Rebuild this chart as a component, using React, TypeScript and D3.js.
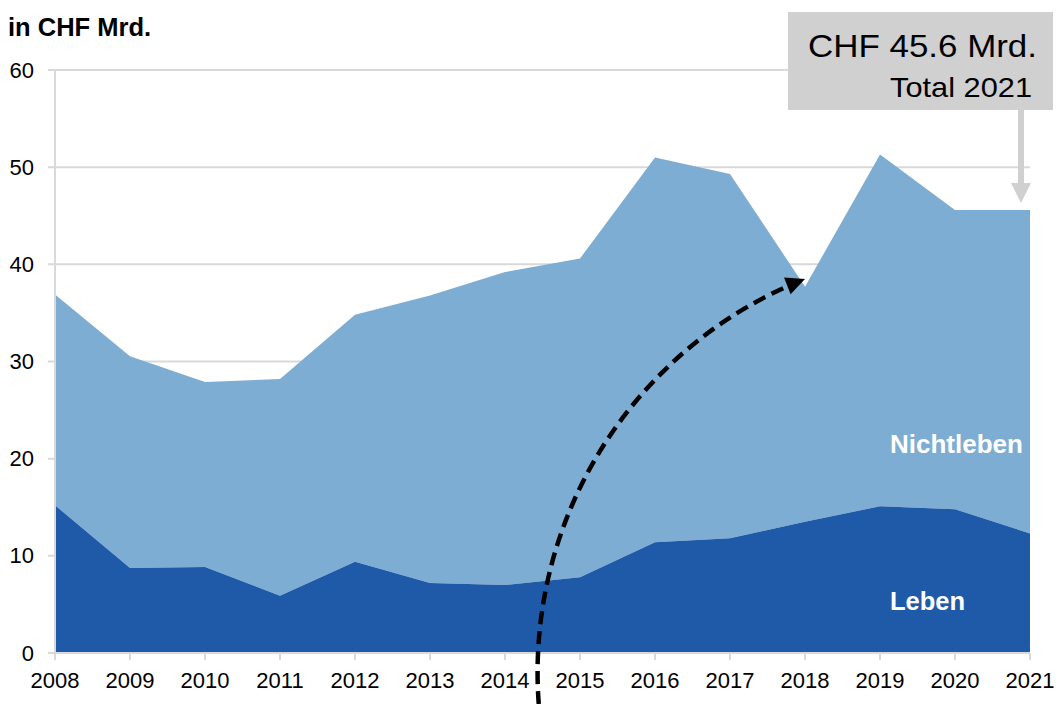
import React from "react";
import * as d3 from "d3";

const years = [2008, 2009, 2010, 2011, 2012, 2013, 2014, 2015, 2016, 2017, 2018, 2019, 2020, 2021];
const leben = [15.2, 8.75, 8.85, 5.9, 9.4, 7.2, 7.0, 7.8, 11.4, 11.8, 13.5, 15.1, 14.8, 12.3];
const nichtleben = [21.7, 21.8, 19.05, 22.3, 25.4, 29.6, 32.2, 32.8, 39.6, 37.5, 24.2, 36.2, 30.8, 33.3];
const yTicks = [0, 10, 20, 30, 40, 50, 60];
const seriesNames = ["Leben", "Nichtleben"];
const unitLabel = "in CHF Mrd.";
const calloutMain = "CHF 45.6 Mrd.";
const calloutSub = "Total 2021";

const W = 1057;
const H = 704;
const LIGHT = "#7eadd3";
const DARK = "#1f5aa8";
const GRID = "#d9d9d9";
const BOX = "#d0d0d0";
const TICKFONT = "'Liberation Sans', Arial, sans-serif";

export default function App() {
  const x = d3.scaleLinear().domain([2008, 2021]).range([55, 1030]);
  const y = d3.scaleLinear().domain([0, 60]).range([653, 70]);

  const rows = years.map((yr, i) => ({ year: yr, Leben: leben[i], Nichtleben: nichtleben[i] }));
  const stack = d3.stack<any>().keys(seriesNames)(rows);
  const area = d3
    .area<any>()
    .x((d: any) => x(d.data.year))
    .y0((d: any) => y(d[0]))
    .y1((d: any) => y(d[1]));

  // dashed curved arrow (circular arc)
  const sx = x(2014.45), sy = H;
  const ex = x(2018), ey = y(38.5);
  const cx = 960, cy = 674;
  const r = Math.hypot(ex - cx, ey - cy);
  const th = Math.atan2(ey - cy, ex - cx);
  const tx = -Math.sin(th), ty = Math.cos(th);
  const headL = 19, headW = 9;
  const bx = ex - tx * headL, by = ey - ty * headL;
  const thB = Math.atan2(by - cy, bx - cx);
  const abx = cx + r * Math.cos(thB), aby = cy + r * Math.sin(thB);
  const r0 = Math.hypot(sx - cx, sy - cy);
  const arcPath = `M${sx},${sy} A${(r + r0) / 2},${(r + r0) / 2} 0 0,1 ${abx},${aby}`;
  const head = [
    [ex, ey],
    [bx + ty * headW, by - tx * headW],
    [bx - ty * headW, by + tx * headW],
  ]
    .map((p) => p.join(","))
    .join(" ");

  const total2021 = leben[13] + nichtleben[13];
  const arrowX = 1021;

  return (
    <svg
      width={W}
      height={H}
      style={{ position: "absolute", left: 0, top: 0, display: "block", background: "#fff" }}
    >
      {/* gridlines */}
      {yTicks.map((t) => (
        <g key={t}>
          <line x1={48} x2={1030} y1={y(t)} y2={y(t)} stroke={GRID} strokeWidth={2} />
          <text
            x={34}
            y={y(t)}
            textAnchor="end"
            dominantBaseline="central"
            fontFamily={TICKFONT}
            fontSize={22}
            fill="#000"
          >
            {t}
          </text>
        </g>
      ))}
      {/* areas */}
      <path d={area(stack[1] as any) || ""} fill={LIGHT} />
      <path d={area(stack[0] as any) || ""} fill={DARK} />
      {/* axes */}
      <line x1={55} x2={55} y1={y(60)} y2={y(0) + 7} stroke={GRID} strokeWidth={2} />
      <line x1={55} x2={1030} y1={y(0)} y2={y(0)} stroke={GRID} strokeWidth={2} />
      {years.map((yr) => (
        <g key={yr}>
          <line x1={x(yr)} x2={x(yr)} y1={y(0)} y2={y(0) + 7} stroke={GRID} strokeWidth={2} />
          <text
            x={x(yr)}
            y={688}
            textAnchor="middle"
            fontFamily={TICKFONT}
            fontSize={22}
            fill="#000"
          >
            {yr}
          </text>
        </g>
      ))}
      {/* unit label */}
      <text x={8} y={36} fontFamily={TICKFONT} fontWeight="bold" fontSize={25.5} fill="#000">
        {unitLabel}
      </text>
      {/* series labels */}
      <text x={890} y={453} fontFamily={TICKFONT} fontWeight="bold" fontSize={26} fill="#fff">
        {seriesNames[1]}
      </text>
      <text x={890} y={610} fontFamily={TICKFONT} fontWeight="bold" fontSize={25.5} fill="#fff">
        {seriesNames[0]}
      </text>
      {/* callout */}
      <rect x={788} y={12} width={265} height={98} fill={BOX} />
      <text
        x={808}
        y={57}
        fontFamily={TICKFONT}
        fontSize={31}
        textLength={229}
        lengthAdjust="spacingAndGlyphs"
        fill="#000"
      >
        {calloutMain}
      </text>
      <text
        x={890}
        y={97}
        fontFamily={TICKFONT}
        fontSize={28}
        textLength={142}
        lengthAdjust="spacingAndGlyphs"
        fill="#000"
      >
        {calloutSub}
      </text>
      <line x1={arrowX} x2={arrowX} y1={110} y2={y(total2021) - 26} stroke={BOX} strokeWidth={6} />
      <polygon
        points={`${arrowX - 10},${y(total2021) - 27} ${arrowX + 10},${y(total2021) - 27} ${arrowX},${y(total2021) - 7}`}
        fill={BOX}
      />
      {/* dashed arrow */}
      <path d={arcPath} fill="none" stroke="#000" strokeWidth={4.5} strokeDasharray="13,7" />
      <polygon points={head} fill="#000" />
    </svg>
  );
}
